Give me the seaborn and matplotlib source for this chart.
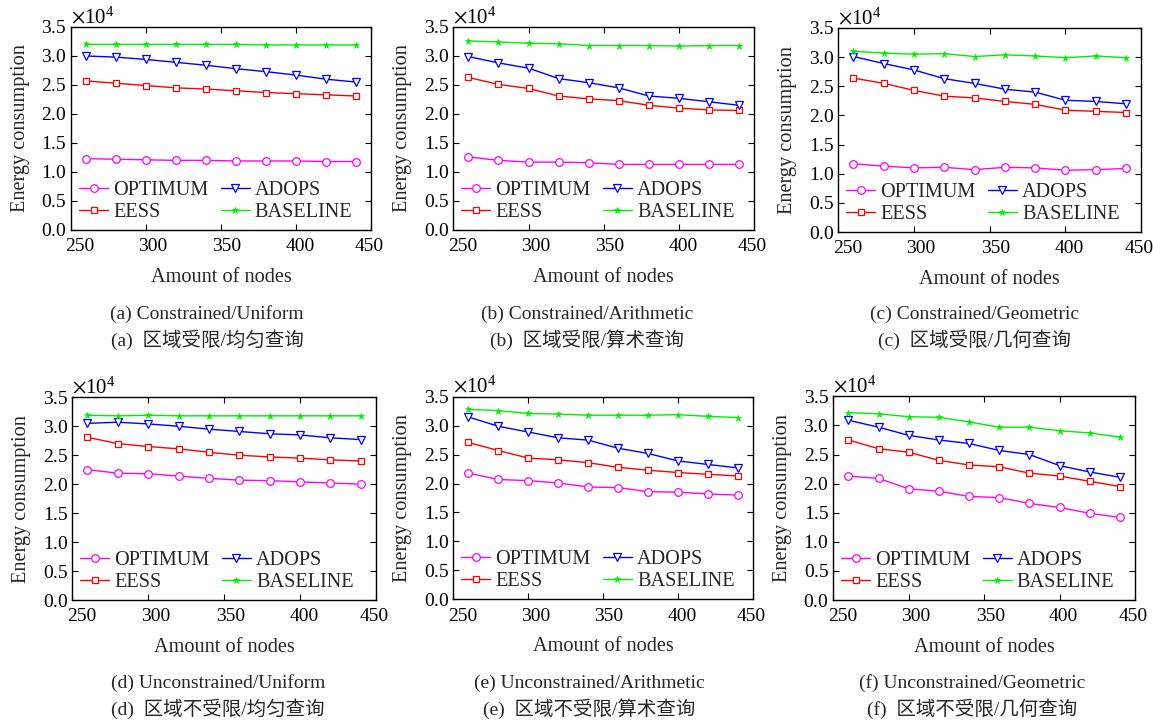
import matplotlib
matplotlib.use("Agg")
import matplotlib.pyplot as plt
import seaborn as sns
import pandas as pd
from matplotlib.ticker import ScalarFormatter, MultipleLocator
from matplotlib.transforms import ScaledTranslation

# x axis: number of deployed nodes
nodes = [260, 280, 300, 320, 340, 360, 380, 400, 420, 440]
x_ticks = [250, 300, 350, 400, 450]
SCALE = 1e4  # series below are given in units of 10^4

# (a) Constrained / Uniform
a_optimum = [1.23, 1.22, 1.21, 1.20, 1.20, 1.19, 1.19, 1.19, 1.18, 1.18]
a_eess = [2.57, 2.53, 2.49, 2.45, 2.43, 2.40, 2.37, 2.35, 2.33, 2.31]
a_adops = [3.00, 2.98, 2.94, 2.89, 2.84, 2.78, 2.73, 2.67, 2.60, 2.55]
a_baseline = [3.20, 3.20, 3.20, 3.20, 3.20, 3.20, 3.19, 3.19, 3.19, 3.19]

# (b) Constrained / Arithmetic
b_optimum = [1.26, 1.20, 1.17, 1.17, 1.16, 1.13, 1.13, 1.13, 1.13, 1.13]
b_eess = [2.63, 2.51, 2.44, 2.31, 2.26, 2.23, 2.15, 2.10, 2.07, 2.06]
b_adops = [2.99, 2.88, 2.79, 2.61, 2.54, 2.45, 2.31, 2.27, 2.21, 2.15]
b_baseline = [3.26, 3.24, 3.22, 3.21, 3.18, 3.18, 3.18, 3.17, 3.18, 3.18]

# (c) Constrained / Geometric
c_optimum = [1.17, 1.13, 1.10, 1.11, 1.07, 1.11, 1.10, 1.06, 1.07, 1.09]
c_eess = [2.64, 2.55, 2.43, 2.33, 2.30, 2.24, 2.19, 2.09, 2.07, 2.05]
c_adops = [3.01, 2.89, 2.78, 2.63, 2.55, 2.45, 2.40, 2.26, 2.24, 2.20]
c_baseline = [3.10, 3.07, 3.05, 3.06, 3.01, 3.04, 3.02, 2.99, 3.02, 2.99]

# (d) Unconstrained / Uniform
d_optimum = [2.25, 2.19, 2.18, 2.14, 2.10, 2.07, 2.06, 2.04, 2.02, 2.00]
d_eess = [2.81, 2.70, 2.65, 2.61, 2.55, 2.50, 2.47, 2.45, 2.42, 2.40]
d_adops = [3.05, 3.07, 3.04, 3.00, 2.95, 2.91, 2.87, 2.85, 2.80, 2.77]
d_baseline = [3.19, 3.18, 3.19, 3.18, 3.18, 3.18, 3.18, 3.18, 3.18, 3.18]

# (e) Unconstrained / Arithmetic
e_optimum = [2.18, 2.07, 2.05, 2.01, 1.94, 1.93, 1.86, 1.85, 1.82, 1.80]
e_eess = [2.71, 2.57, 2.44, 2.41, 2.36, 2.28, 2.23, 2.19, 2.16, 2.13]
e_adops = [3.15, 2.99, 2.89, 2.79, 2.75, 2.61, 2.52, 2.39, 2.33, 2.27]
e_baseline = [3.28, 3.26, 3.21, 3.20, 3.18, 3.18, 3.18, 3.19, 3.16, 3.14]

# (f) Unconstrained / Geometric
f_optimum = [2.13, 2.09, 1.91, 1.87, 1.78, 1.76, 1.66, 1.59, 1.49, 1.42]
f_eess = [2.75, 2.60, 2.54, 2.40, 2.32, 2.29, 2.18, 2.13, 2.04, 1.95]
f_adops = [3.09, 2.97, 2.83, 2.75, 2.69, 2.57, 2.50, 2.31, 2.20, 2.11]
f_baseline = [3.22, 3.20, 3.15, 3.14, 3.06, 2.97, 2.97, 2.91, 2.87, 2.80]

series_names = ["OPTIMUM", "EESS", "ADOPS", "BASELINE"]

captions_en = ["(a) Constrained/Uniform", "(b) Constrained/Arithmetic",
               "(c) Constrained/Geometric", "(d) Unconstrained/Uniform",
               "(e) Unconstrained/Arithmetic", "(f) Unconstrained/Geometric"]
captions_zh = ["(a)  区域受限/均匀查询", "(b)  区域受限/算术查询",
               "(c)  区域受限/几何查询", "(d)  区域不受限/均匀查询",
               "(e)  区域不受限/算术查询", "(f)  区域不受限/几何查询"]

panels = [
    [a_optimum, a_eess, a_adops, a_baseline],
    [b_optimum, b_eess, b_adops, b_baseline],
    [c_optimum, c_eess, c_adops, c_baseline],
    [d_optimum, d_eess, d_adops, d_baseline],
    [e_optimum, e_eess, e_adops, e_baseline],
    [f_optimum, f_eess, f_adops, f_baseline],
]

styles = {
    "OPTIMUM": dict(color="#ff00ff", marker="o", mfc="white", ms=5.5, mew=0.9),
    "EESS": dict(color="#ff0000", marker="s", mfc="white", ms=5.0, mew=0.9),
    "ADOPS": dict(color="#0000ff", marker="v", mfc="white", ms=6.0, mew=0.9),
    "BASELINE": dict(color="#00ee00", marker="*", mfc="#00ee00", ms=5.0, mew=0.5),
}

sns.set_style("ticks")
plt.rcParams["font.family"] = ["Liberation Serif", "Noto Sans CJK SC"]
plt.rcParams["mathtext.fontset"] = "stix"

fig = plt.figure(figsize=(11.53, 7.23), dpi=100)

# axes rectangles [left, bottom, width, height] in figure fractions
rects = [
    [0.0616, 0.6819, 0.2602, 0.2808],
    [0.3932, 0.6819, 0.2608, 0.2808],
    [0.7271, 0.6791, 0.2625, 0.2822],
    [0.0627, 0.1701, 0.2634, 0.2804],
    [0.3932, 0.1711, 0.2597, 0.2802],
    [0.7227, 0.1701, 0.2617, 0.2817],
]
# horizontal nudges (in pixels) of the x tick labels
x_label_shift = [9, 7, 6, 4, -2]
caption_x = [207, 587, 975, 218, 589, 972]
caption_y = [[314, 340], [314, 340], [314, 340], [683, 709], [683, 709], [683, 709]]

W, H = 1153, 723
for i, (rect, data) in enumerate(zip(rects, panels)):
    ax = fig.add_axes(rect)
    for name, vals in zip(series_names, data):
        st = styles[name]
        df = pd.DataFrame({"nodes": nodes, "energy": [v * SCALE for v in vals]})
        sns.lineplot(data=df, x="nodes", y="energy", ax=ax, color=st["color"],
                     marker=st["marker"], markerfacecolor=st["mfc"],
                     markeredgecolor=st["color"], markersize=st["ms"],
                     markeredgewidth=st["mew"], linewidth=1.0, label=name)
    ax.set_xlim(250, 450)
    ax.set_ylim(0, 35000)
    ax.set_xticks(x_ticks)
    ax.yaxis.set_major_locator(MultipleLocator(5000))
    fmt = ScalarFormatter(useMathText=True)
    fmt.set_powerlimits((0, 0))
    ax.yaxis.set_major_formatter(fmt)
    ax.yaxis.get_offset_text().set_fontsize(15)
    ax.tick_params(direction="in", top=True, right=True, length=4, width=0.8,
                   labelsize=14, colors="black")
    ax.tick_params(axis="x", pad=6)
    ax.tick_params(axis="y", pad=3)
    for sp in ax.spines.values():
        sp.set_linewidth(1.0)
        sp.set_color("black")
    ax.set_xlabel("Amount of nodes", fontsize=14.6, labelpad=9)
    ax.set_ylabel("Energy consumption", fontsize=14.6, labelpad=8)
    for tick, dx in zip(ax.xaxis.get_major_ticks(), x_label_shift):
        tick.label1.set_transform(tick.label1.get_transform()
                                  + ScaledTranslation(dx / 100, 0, fig.dpi_scale_trans))
    ax.legend(ncol=2, loc="lower left", bbox_to_anchor=(0.0, 0.0), frameon=False,
              fontsize=14.6, handlelength=1.43, handletextpad=0.25,
              columnspacing=0.6, labelspacing=0.15, borderaxespad=0.0,
              borderpad=0.4)
    cx = caption_x[i] / W
    fig.text(cx, 1 - caption_y[i][0] / H, captions_en[i], ha="center", va="center",
             fontsize=14)
    fig.text(cx, 1 - caption_y[i][1] / H, captions_zh[i], ha="center", va="center",
             fontsize=14)

fig.savefig("out.png", dpi=100, facecolor="white")
